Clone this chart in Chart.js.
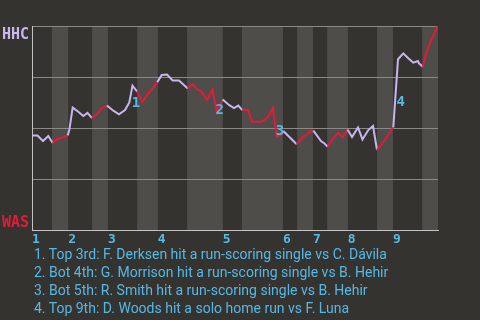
<!DOCTYPE html>
<html>
<head>
<meta charset="utf-8">
<script src="https://cdn.jsdelivr.net/npm/chart.js@4"></script>
<style>
  html, body { margin: 0; padding: 0; background: #353330; }
  #wrap { position: relative; width: 480px; height: 320px; }
  #notes {
    position: absolute; left: 34px; top: 245px;
    font: 14px Roboto, sans-serif; line-height: 18px; color: #55b9e6;
  }
</style>
</head>
<body>
<div id="wrap">
  <canvas id="wpChart" width="480" height="320"></canvas>
  <div id="notes"></div>
</div>
<script>
// ---- data (x = play position, y = HHC win probability) ----
const playX = [0, 1.35, 2.71, 4.01, 5.1, 6.16, 7.39, 8.79, 9.19, 10.02, 11.33, 12.64, 13.67, 14.78,
  16.01, 17.24, 18.47, 20.02, 21.43, 22.91, 23.97, 24.75, 25.86, 27.22, 28.33, 29.56, 30.86,
  31.95, 33.25, 34.66, 36.21, 38.35, 39.58, 40.57, 41.63, 43.1, 44.46, 45.49, 46.97, 48.52,
  49.75, 50.81, 51.8, 53.2, 54.19, 56.58, 57.81, 58.62, 59.36, 60.27, 61.5, 61.9, 65.2, 66.75,
  68.89, 69.29, 71.18, 72.04, 72.83, 74.21, 75.44, 76.48, 77.71, 78.82, 80.3, 81.4, 82.83,
  83.99, 84.98, 86.95, 88.6, 88.99, 90.15, 91.45, 92.68, 93.92, 95.07, 95.32, 96.23, 97.22,
  98.45, 100];
const winProb = [0.463, 0.463, 0.436, 0.461, 0.426, 0.445, 0.453, 0.464, 0.49, 0.6, 0.581, 0.559,
  0.574, 0.548, 0.569, 0.597, 0.61, 0.585, 0.567, 0.588, 0.625, 0.708, 0.679, 0.629, 0.662,
  0.689, 0.725, 0.76, 0.762, 0.733, 0.733, 0.694, 0.716, 0.691, 0.681, 0.637, 0.689, 0.58,
  0.64, 0.613, 0.598, 0.61, 0.588, 0.588, 0.531, 0.531, 0.548, 0.569, 0.6, 0.457, 0.468,
  0.485, 0.42, 0.456, 0.487, 0.487, 0.436, 0.424, 0.408, 0.45, 0.477, 0.454, 0.493, 0.456,
  0.503, 0.444, 0.49, 0.51, 0.392, 0.441, 0.494, 0.503, 0.837, 0.866, 0.842, 0.82, 0.828,
  0.817, 0.8, 0.874, 0.935, 1.0];

// half-inning boundaries (top 1st, bot 1st, top 2nd, ...)
const halfStarts = [0, 4.9, 8.9, 14.8, 18.7, 25.9, 31.0, 38.2, 47.0, 51.7, 61.8, 65.3, 69.2,
  72.7, 77.8, 85.0, 88.9, 96.1, 100];
const inningLabels = ["1", "2", "3", "4", "5", "6", "7", "8", "9"];

// key plays: index into the data and caption
const keyPlayIdx = [21, 37, 49, 72];
const keyPlayText = [
  "Top 3rd: F. Derksen hit a run-scoring single vs C. Dávila",
  "Bot 4th: G. Morrison hit a run-scoring single vs B. Hehir",
  "Bot 5th: R. Smith hit a run-scoring single vs B. Hehir",
  "Top 9th: D. Woods hit a solo home run vs F. Luna"
];

const teamTop = "HHC";
const teamBottom = "WAS";

// ---- colours ----
const AWAY_COLOR = "#c9b5ef";
const HOME_COLOR = "#e5193a";
const NOTE_COLOR = "#55b9e6";
const BAND_COLOR = "#4e4d4a";

function halfIndex(x) {
  for (let i = halfStarts.length - 2; i >= 0; i--) {
    if (x >= halfStarts[i]) return i;
  }
  return 0;
}

// shaded bands for bottom halves
const bandsPlugin = {
  id: "bands",
  beforeDraw(chart) {
    const { ctx, chartArea, scales } = chart;
    ctx.save();
    ctx.fillStyle = BAND_COLOR;
    for (let i = 1; i < halfStarts.length - 1; i += 2) {
      const x0 = scales.x.getPixelForValue(halfStarts[i]);
      const x1 = scales.x.getPixelForValue(halfStarts[i + 1]);
      ctx.fillRect(x0, chartArea.top, x1 - x0, chartArea.bottom - chartArea.top);
    }
    ctx.restore();
  }
};

// team names + key play numbers
const labelsPlugin = {
  id: "labels",
  afterDatasetsDraw(chart) {
    const { ctx, chartArea } = chart;
    ctx.save();
    ctx.font = "bold 15px 'DejaVu Sans Mono'";
    ctx.textAlign = "left";
    ctx.textBaseline = "alphabetic";
    ctx.fillStyle = AWAY_COLOR;
    ctx.fillText(teamTop, 2, chartArea.top + 12.5);
    ctx.fillStyle = HOME_COLOR;
    ctx.fillText(teamBottom, 2, chartArea.bottom - 3.5);

    const pts = chart.getDatasetMeta(0).data;
    ctx.font = "bold 14px 'DejaVu Sans Mono'";
    ctx.textAlign = "center";
    ctx.fillStyle = NOTE_COLOR;
    keyPlayIdx.forEach((idx, n) => {
      const a = pts[idx - 1], b = pts[idx];
      const mx = (a.x + b.x) / 2, my = (a.y + b.y) / 2;
      ctx.fillText(String(n + 1), mx + 5, my + 13);
    });
    ctx.restore();
  }
};

document.getElementById("notes").innerHTML =
  keyPlayText.map((t, i) => `<div>${i + 1}. ${t}</div>`).join("");

new Chart(document.getElementById("wpChart"), {
  type: "line",
  data: {
    datasets: [{
      data: playX.map((x, i) => ({ x: x, y: winProb[i] })),
      borderWidth: 2,
      pointRadius: 0,
      tension: 0,
      borderColor: AWAY_COLOR,
      segment: {
        borderColor: c => halfIndex((c.p0.parsed.x + c.p1.parsed.x) / 2) % 2 === 0 ? AWAY_COLOR : HOME_COLOR
      }
    }]
  },
  options: {
    responsive: false,
    animation: false,
    layout: { padding: { left: 32, top: 26, right: 42, bottom: 0 } },
    plugins: { legend: { display: false }, tooltip: { enabled: false } },
    scales: {
      x: {
        type: "linear",
        min: 0,
        max: 100,
        grid: { display: false, drawTicks: false },
        border: { display: true, color: "#c4c4c4", width: 1 },
        afterBuildTicks: s => { s.ticks = halfStarts.filter((v, i) => i % 2 === 0 && i < 18).map(v => ({ value: v })); },
        afterFit: s => { s.height = 90; },
        ticks: {
          autoSkip: false,
          maxRotation: 0,
          align: "start",
          padding: 2,
          color: NOTE_COLOR,
          font: { family: "'DejaVu Sans Mono'", size: 13, weight: "bold" },
          callback: (v, i) => inningLabels[i]
        }
      },
      y: {
        min: 0,
        max: 1,
        grid: { color: "#8a8986", drawTicks: false },
        border: { display: true, color: "#c4c4c4", width: 1 },
        ticks: { display: false, stepSize: 0.25 }
      }
    }
  },
  plugins: [bandsPlugin, labelsPlugin]
});
</script>
</body>
</html>
